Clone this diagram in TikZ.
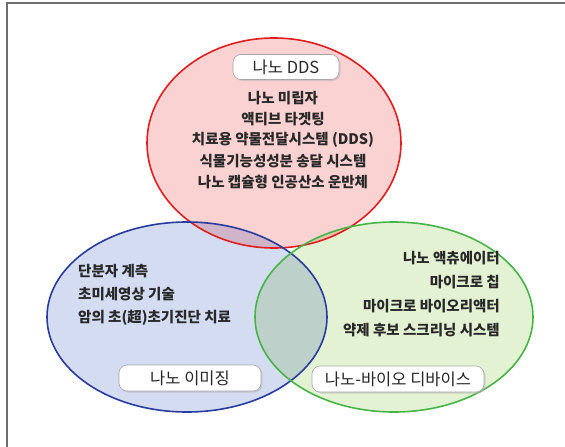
\documentclass[tikz,border=0pt]{standalone}
\usepackage{fontspec}
\newfontfamily\kr{Noto Sans CJK KR}
\usetikzlibrary{shadows}
\definecolor{redline}{RGB}{225,30,30}
\definecolor{redfill}{RGB}{250,210,210}
\definecolor{blueline}{RGB}{40,60,160}
\definecolor{bluefill}{RGB}{212,220,242}
\definecolor{greenline}{RGB}{70,180,70}
\definecolor{greenfill}{RGB}{228,242,212}
\definecolor{txt}{RGB}{40,40,40}
\definecolor{frameline}{RGB}{110,110,110}
\tikzset{
  setfill/.style={blend mode=multiply},
  setline/.style={line width=1.6pt},
  tagbox/.style={draw=gray!70, fill=white, rounded corners=8pt, line width=0.6pt,
    drop shadow={shadow xshift=1.5pt, shadow yshift=-1.5pt, fill=gray!60},
    font=\kr\fontsize{16.5}{19}\selectfont, text=txt, inner xsep=8pt, inner ysep=3pt},
  body/.style={font=\kr\bfseries\fontsize{14.5}{17}\selectfont, text=txt, inner sep=0pt}
}
\begin{document}
\begin{tikzpicture}[x=1pt,y=-1pt]
\useasboundingbox (0,0) rectangle (565,447);
\coordinate (ftl) at (7,3);
\coordinate (ftr) at (565,3);
\coordinate (fbl) at (7,447);
\draw[frameline, line width=1.2pt] (ftr) -- (ftl) -- (fbl);
% ellipses
\begin{scope}[transparency group]
\fill[redfill] (274,143) ellipse [x radius=127, y radius=105];
\fill[bluefill, setfill] (187,317) ellipse [x radius=140, y radius=95];
\fill[greenfill, setfill] (394,317) ellipse [x radius=139, y radius=95];
\end{scope}
\draw[redline, setline] (274,143) ellipse [x radius=127, y radius=105];
\draw[blueline, setline] (187,317) ellipse [x radius=140, y radius=95];
\draw[greenline, setline] (394,317) ellipse [x radius=139, y radius=95];
% labels
\node[tagbox, minimum width=106pt, minimum height=25pt] (dds) at (286,67) {나노 DDS};
\node[tagbox, minimum width=142pt, minimum height=26pt] (img) at (190,378) {나노 이미징};
\node[tagbox, minimum width=172pt, minimum height=26pt] (bio) at (398,379) {나노-바이오 디바이스};
% red texts
\node[body] (r1) at (283,98) {나노 미립자};
\node[body] (r2) at (283,119) {액티브 타겟팅};
\node[body] (r3) at (283,140) {치료용 약물전달시스템 (DDS)};
\node[body] (r4) at (283,161) {식물기능성성분 송달 시스템};
\node[body] (r5) at (283,182) {나노 캡슐형 인공산소 운반체};
% blue texts
\node[body, anchor=west] (b1) at (78,271) {단분자 계측};
\node[body, anchor=west] (b2) at (78,294) {초미세영상 기술};
\node[body, anchor=west] (b3) at (78,318) {암의 초(超)초기진단 치료};
% green texts
\node[body, anchor=east] (g1) at (500,258) {나노 액츄에이터};
\node[body, anchor=east] (g2) at (500,282) {마이크로 칩};
\node[body, anchor=east] (g3) at (500,306) {마이크로 바이오리액터};
\node[body, anchor=east] (g4) at (500,330) {약제 후보 스크리닝 시스템};
\end{tikzpicture}
\end{document}
